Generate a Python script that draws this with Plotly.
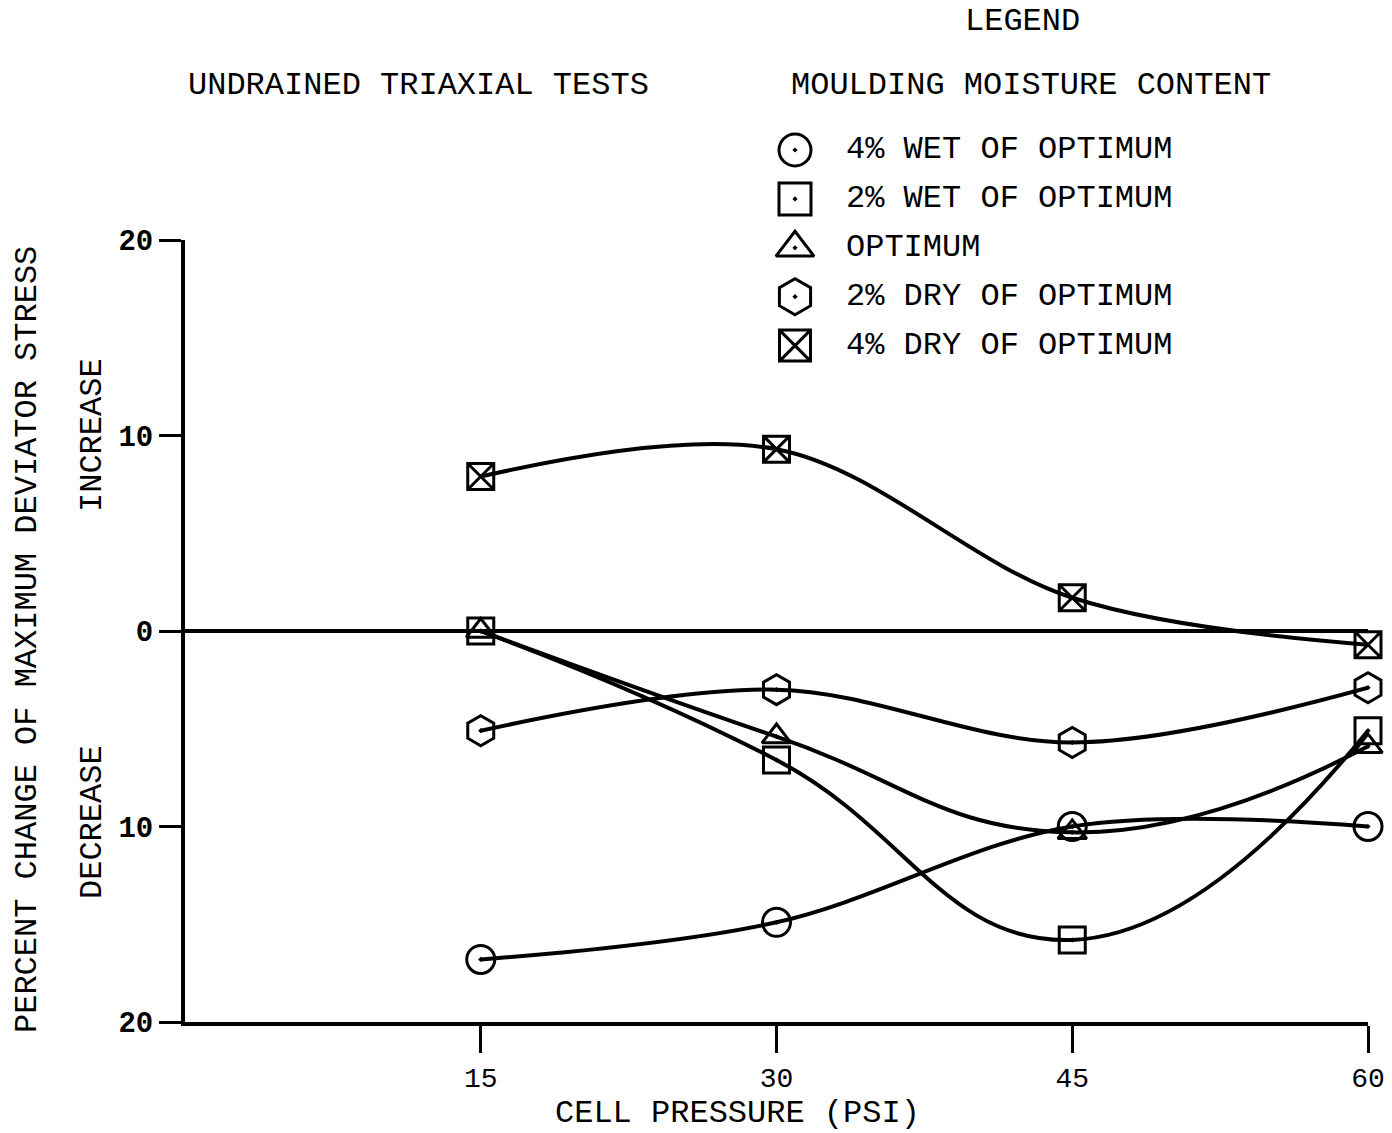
import plotly.graph_objects as go

# ---- data -------------------------------------------------------------
cell_pressure = [15, 30, 45, 60]                      # psi

series_names = [
    "4% WET OF OPTIMUM",
    "2% WET OF OPTIMUM",
    "OPTIMUM",
    "2% DRY OF OPTIMUM",
    "4% DRY OF OPTIMUM",
]
# percent change of maximum deviator stress (+ increase, - decrease)
wet_4 = [-16.8, -14.9, -10.0, -10.0]
wet_2 = [0.0, -6.6, -15.8, -5.1]
optimum = [0.0, -5.4, -10.3, -5.9]
dry_2 = [-5.1, -3.0, -5.7, -2.9]
dry_4 = [7.9, 9.3, 1.7, -0.7]

x_tick_values = [15, 30, 45, 60]
y_tick_values = [-20, -10, 0, 10, 20]
y_tick_labels = ["20", "10", "0", "10", "20"]

# ---- page geometry ----------------------------------------------------
W, H = 1392, 1133
FONT = "Liberation Mono"
INK = "black"
symbols = ["circle-open-dot", "square-open-dot", "triangle-up-open-dot",
           "hexagon-open-dot", "square-x-open"]
plot_sizes = [28, 26, 25, 30, 26]
key_sizes = [32, 32, 33, 36, 31]
smoothing = [1.0, 1.3, 1.3, 1.0, 1.0]

# main plotting area, page pixels
X0_PX, X1_PX = 185, 1368
Y_TOP_PX, Y_BOT_PX = 240, 1022


def px_x(px):
    return px / W


def px_y(py):
    return 1 - py / H


fig = go.Figure()

all_series = [wet_4, wet_2, optimum, dry_2, dry_4]
for name, values, sym, size, sm in zip(series_names, all_series, symbols,
                                        plot_sizes, smoothing):
    fig.add_trace(go.Scatter(
        x=cell_pressure, y=values, name=name,
        mode="lines+markers",
        line=dict(color=INK, width=4, shape="spline", smoothing=sm),
        marker=dict(symbol=sym, size=size, color=INK, opacity=1,
                    line=dict(color=INK, width=3)),
        cliponaxis=False, showlegend=False,
        xaxis="x", yaxis="y",
    ))

# legend key on an overlay axis scaled in page pixels
key_rows = list(range(len(series_names)))
row_y = [150 + 48.9 * i for i in key_rows]
fig.add_trace(go.Scatter(
    x=[795] * len(key_rows), y=row_y, mode="markers",
    marker=dict(symbol=symbols, size=key_sizes, color=INK, opacity=1,
                line=dict(color=INK, width=3)),
    showlegend=False, cliponaxis=False, hoverinfo="skip",
    xaxis="x2", yaxis="y2",
))
fig.add_trace(go.Scatter(
    x=[846] * len(key_rows), y=row_y, mode="text",
    text=series_names, textposition="middle right",
    textfont=dict(family=FONT, size=32, color=INK),
    showlegend=False, cliponaxis=False, hoverinfo="skip",
    xaxis="x2", yaxis="y2",
))

annotations = [
    dict(text="LEGEND", x=px_x(1022), y=px_y(21)),
    dict(text="UNDRAINED TRIAXIAL TESTS", x=px_x(418), y=px_y(86)),
    dict(text="MOULDING MOISTURE CONTENT", x=px_x(1031), y=px_y(86)),
    dict(text="CELL PRESSURE (PSI)", x=px_x(737), y=px_y(1113)),
    dict(text="PERCENT CHANGE OF MAXIMUM DEVIATOR STRESS",
         x=px_x(27), y=px_y(640), textangle=-90),
    dict(text="INCREASE", x=px_x(92), y=px_y(435), textangle=-90),
    dict(text="DECREASE", x=px_x(92), y=px_y(822), textangle=-90),
]
for a in annotations:
    a.update(xref="paper", yref="paper", showarrow=False,
             xanchor="center", yanchor="middle",
             font=dict(family=FONT, size=32, color=INK))

fig.update_layout(
    width=W, height=H,
    margin=dict(l=0, r=0, t=0, b=0, pad=0, autoexpand=False),
    paper_bgcolor="white",
    plot_bgcolor="rgba(0,0,0,0)",
    showlegend=False,
    annotations=annotations,
    xaxis=dict(
        domain=[px_x(X0_PX), px_x(X1_PX)], range=[0, 60],
        tickmode="array", tickvals=x_tick_values,
        ticks="outside", ticklen=27, tickwidth=3, tickcolor=INK,
        showline=True, linewidth=4, linecolor=INK,
        showgrid=False, zeroline=False,
        tickfont=dict(family=FONT, size=28, color=INK),
        ticklabelstandoff=0,
        anchor="y",
    ),
    yaxis=dict(
        domain=[px_y(Y_BOT_PX), px_y(Y_TOP_PX)], range=[-20, 20],
        tickmode="array", tickvals=y_tick_values, ticktext=y_tick_labels,
        ticks="outside", ticklen=22, tickwidth=3, tickcolor=INK,
        showline=True, linewidth=4, linecolor=INK,
        showgrid=False,
        zeroline=True, zerolinewidth=4, zerolinecolor=INK,
        tickfont=dict(family=FONT, size=29, color=INK, weight="bold"),
        ticklabelstandoff=0,
        anchor="x",
    ),
    xaxis2=dict(domain=[0, 1], range=[0, W],
                visible=False, anchor="y2", fixedrange=True),
    yaxis2=dict(domain=[0, 1], range=[H, 0],
                visible=False, anchor="x2", fixedrange=True),
)

fig.write_html("out.html")
